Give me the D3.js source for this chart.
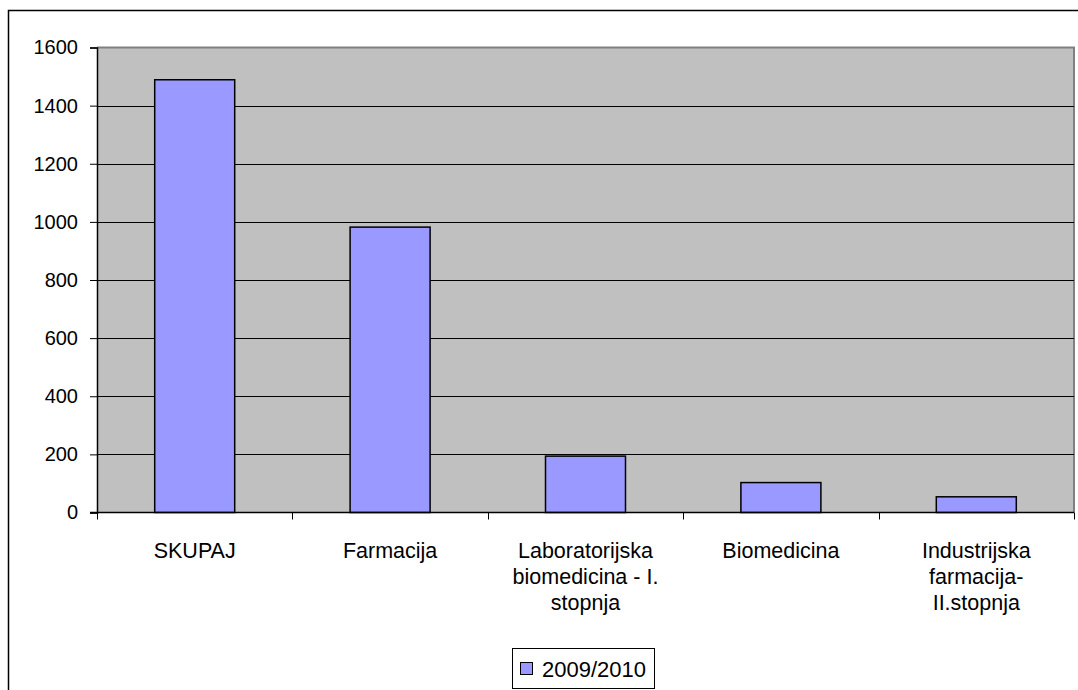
<!DOCTYPE html>
<html><head>
<meta charset="utf-8">
<script src="https://d3js.org/d3.v7.min.js"></script>
<style>
  body { margin: 0; background: #fff; }
  text { font-family: "Liberation Sans", Arial, sans-serif; }
</style>
</head>
<body>
<svg id="chart" width="1078" height="690"></svg>
<script>
  // data
  let categories = ["SKUPAJ", "Farmacija", "Laboratorijska biomedicina - I. stopnja", "Biomedicina", "Industrijska farmacija-II.stopnja"];
  let labelLines = [["SKUPAJ"], ["Farmacija"], ["Laboratorijska", "biomedicina - I.", "stopnja"], ["Biomedicina"], ["Industrijska", "farmacija-", "II.stopnja"]];
  let values = [1489, 982, 194, 103, 54];
  let yTicks = [0, 200, 400, 600, 800, 1000, 1200, 1400, 1600];
  let seriesName = "2009/2010";

  let svg = d3.select("svg#chart");
  let margin = {"top": 47.5, "left": 97, "right": 1074, "bottom": 512.5};

  // outer frame (runs off the right and bottom edges)
  svg.append("rect")
    .attr("x", 8.5).attr("y", 10.5)
    .attr("width", 1200).attr("height", 800)
    .attr("fill", "white").attr("stroke", "black").attr("stroke-width", 1.5);

  let x = d3.scaleBand().domain(categories).range([margin.left, margin.right]);
  let y = d3.scaleLinear().domain([0, 1600]).range([margin.bottom, margin.top]);

  // plot background
  svg.append("rect")
    .attr("x", margin.left).attr("y", margin.top)
    .attr("width", margin.right - margin.left).attr("height", margin.bottom - margin.top)
    .attr("fill", "#c0c0c0");
  svg.append("path")
    .attr("d", "M" + margin.left + "," + margin.top + "H" + margin.right + "V" + margin.bottom)
    .attr("fill", "none").attr("stroke", "#808080").attr("stroke-width", 2);

  // gridlines
  svg.append("g").selectAll("line")
    .data(yTicks.filter(d => d > 0 && d < 1600))
    .enter().append("line")
      .attr("x1", margin.left).attr("x2", margin.right)
      .attr("y1", d => Math.round(y(d)) + 0.5).attr("y2", d => Math.round(y(d)) + 0.5)
      .attr("stroke", "black").attr("stroke-width", 1);

  // bars
  let barW = 80;
  svg.append("g").selectAll("rect")
    .data(values)
    .enter().append("rect")
      .attr("x", (d, i) => x(categories[i]) + x.bandwidth() / 2 - barW / 2)
      .attr("y", d => y(d))
      .attr("width", barW)
      .attr("height", d => y(0) - y(d))
      .attr("fill", "#9999ff")
      .attr("stroke", "black").attr("stroke-width", 1.5);

  // y axis
  let yAxis = svg.append("g")
    .attr("transform", "translate(" + margin.left + ",0)")
    .call(d3.axisLeft(y).tickValues(yTicks).tickSize(7).tickPadding(12).tickFormat(d3.format("d")));
  yAxis.select(".domain").attr("stroke", "black").attr("stroke-width", 1.5);
  yAxis.selectAll("text").style("font-size", "20px").attr("fill", "black");

  // x axis line + category ticks
  svg.append("line")
    .attr("x1", margin.left - 7).attr("x2", margin.right)
    .attr("y1", margin.bottom).attr("y2", margin.bottom)
    .attr("stroke", "black").attr("stroke-width", 1.5);
  let xEdges = categories.map(c => x(c)).concat([margin.right]);
  svg.append("g").selectAll("line")
    .data(xEdges)
    .enter().append("line")
      .attr("x1", d => Math.round(d) + 0.5).attr("x2", d => Math.round(d) + 0.5)
      .attr("y1", margin.bottom).attr("y2", margin.bottom + 7)
      .attr("stroke", "black");

  // x labels
  let xl = svg.append("g").selectAll("text")
    .data(labelLines)
    .enter().append("text")
      .attr("text-anchor", "middle")
      .style("font-size", "21.5px")
      .attr("fill", "black");
  xl.each(function(lines, i) {
    let t = d3.select(this);
    lines.forEach((ln, j) => {
      t.append("tspan")
        .attr("x", x(categories[i]) + x.bandwidth() / 2)
        .attr("y", 558 + j * 26)
        .text(ln);
    });
  });

  // legend
  let legend = svg.append("g");
  legend.append("rect")
    .attr("x", 512.5).attr("y", 648.5).attr("width", 142).attr("height", 40)
    .attr("fill", "white").attr("stroke", "black");
  legend.append("rect")
    .attr("x", 520.5).attr("y", 662.5).attr("width", 12).attr("height", 12)
    .attr("fill", "#9999ff").attr("stroke", "black");
  legend.append("text")
    .attr("x", 542).attr("y", 677)
    .style("font-size", "22px").attr("fill", "black")
    .text(seriesName);
</script>
</body>
</html>
